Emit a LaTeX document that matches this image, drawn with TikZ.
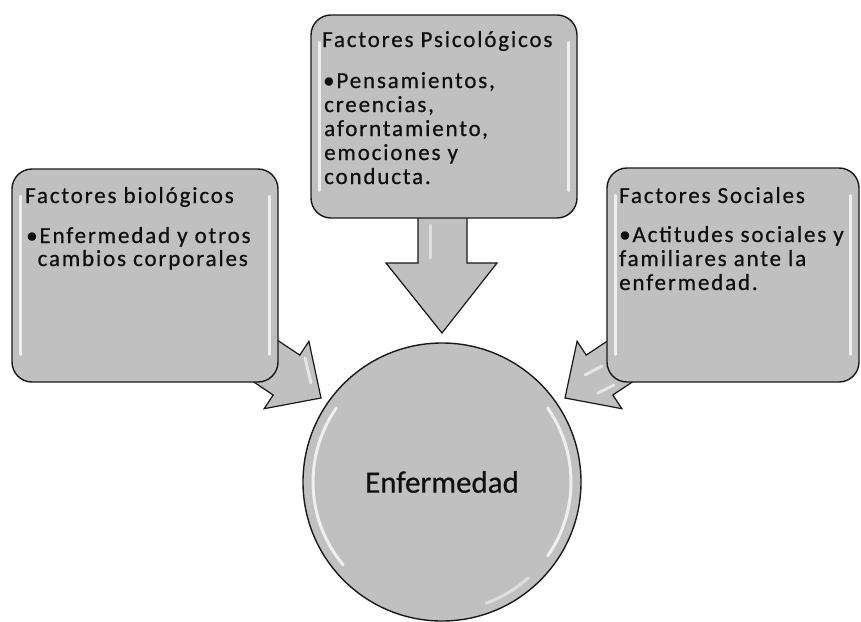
\documentclass[tikz,border=0pt]{standalone}
\usepackage{fontspec}
\setmainfont{Carlito}
\newfontfamily\boxfont{Carlito}[LetterSpace=8,FakeBold=0.6]
\newfontfamily\circfont{Carlito}[FakeBold=0.5]
\definecolor{boxgray}{RGB}{192,192,192}
\definecolor{edgec}{RGB}{25,25,25}
\definecolor{textc}{RGB}{15,15,15}
\begin{document}
\begin{tikzpicture}[x=1pt,y=-1pt,
  boxshape/.style={draw=edgec, line width=1.4pt, fill=boxgray, rounded corners=20pt, inner sep=0pt},
  blk/.style={draw=edgec, line width=1.2pt, fill=boxgray, line join=miter},
  hl/.style={white, opacity=0.75, line width=3pt, line cap=round},
  txt/.style={anchor=base west, inner sep=0pt, font=\boxfont\fontsize{23}{23.5}\selectfont, text=textc}]
\useasboundingbox (0,0) rectangle (861,621);
\fill[white] (0,0) rectangle (861,621);

% block arrows (under the boxes)
\coordinate (d1) at (418,200); \coordinate (d2) at (418,263); \coordinate (d3) at (386,263);
\coordinate (dt) at (442,333);
\coordinate (d4) at (497,263); \coordinate (d5) at (467,263); \coordinate (d6) at (467,200);
\draw[blk] (d1) -- (d2) -- (d3) -- (dt) -- (d4) -- (d5) -- (d6) -- cycle;
\draw[hl, opacity=0.5] (430,225) -- (430,258);

\coordinate (l1) at (249.9,321.9); \coordinate (l2) at (299.8,355.1); \coordinate (l3) at (308.9,341.3);
\coordinate (lt) at (321,398);
\coordinate (l4) at (264.1,408.7); \coordinate (l5) at (273.2,395); \coordinate (l6) at (223.3,361.7);
\draw[blk] (l1) -- (l2) -- (l3) -- (lt) -- (l4) -- (l5) -- (l6) -- cycle;
\draw[hl, opacity=0.6] (305,358) -- (311,383);

\coordinate (r1) at (636.1,321.9); \coordinate (r2) at (586.2,355.1); \coordinate (r3) at (577.1,341.3);
\coordinate (rt) at (565,398);
\coordinate (r4) at (621.9,408.7); \coordinate (r5) at (612.8,395); \coordinate (r6) at (662.7,361.7);
\draw[blk] (r1) -- (r2) -- (r3) -- (rt) -- (r4) -- (r5) -- (r6) -- cycle;
\draw[hl, opacity=0.6] (585,375) -- (602,366);
\draw[hl, opacity=0.6] (598,393) -- (614,385);

% boxes
\node[boxshape, minimum width=266pt, minimum height=213pt] (bio) at (145,275.5) {};
\node[boxshape, minimum width=266pt, minimum height=203pt] (psi) at (444,116.5) {};
\node[boxshape, minimum width=252pt, minimum height=214pt] (soc) at (733,275) {};

% glossy highlights on the boxes
\draw[hl] ([xshift=9pt,yshift=-28pt]bio.north west) -- ([xshift=9pt,yshift=28pt]bio.south west);
\draw[hl] ([xshift=-9pt,yshift=-28pt]bio.north east) -- ([xshift=-9pt,yshift=28pt]bio.south east);
\draw[hl] ([xshift=9pt,yshift=-28pt]psi.north west) -- ([xshift=9pt,yshift=28pt]psi.south west);
\draw[hl] ([xshift=-9pt,yshift=-28pt]psi.north east) -- ([xshift=-9pt,yshift=28pt]psi.south east);
\draw[hl] ([xshift=9pt,yshift=-28pt]soc.north west) -- ([xshift=9pt,yshift=28pt]soc.south west);
\draw[hl] ([xshift=-9pt,yshift=-28pt]soc.north east) -- ([xshift=-9pt,yshift=28pt]soc.south east);

% circle
\node[circle, draw=edgec, line width=1.4pt, fill=boxgray, minimum size=278pt, inner sep=0pt,
      font=\circfont\fontsize{31}{36}\selectfont, text=textc] (enf) at (442,482) {Enfermedad};
\draw[hl] ([shift={(140:129)}]enf.center) arc[start angle=140, end angle=215, radius=129];
\draw[hl] ([shift={(-35:129)}]enf.center) arc[start angle=-35, end angle=35, radius=129];
\draw[hl, opacity=0.5] ([shift={(48:129)}]enf.center) arc[start angle=48, end angle=70, radius=129];

% texts
\node[txt] (bioT) at (25,203) {Factores biológicos};
\node[txt] (bioA) at (26,243) {•Enfermedad y otros};
\node[txt] (bioB) at (26,266) {\phantom{•}cambios corporales};

\node[txt] (psiT) at (322,47) {Factores Psicológicos};
\node[txt] (psiA) at (323,88) {•Pensamientos,};
\node[txt] (psiB) at (324,112) {creencias,};
\node[txt] (psiC) at (324,136) {aforntamiento,};
\node[txt] (psiD) at (324,160) {emociones y};
\node[txt] (psiE) at (324,184) {conducta.};

\node[txt] (socT) at (619,203) {Factores Sociales};
\node[txt] (socA) at (619,242) {•Actitudes sociales y};
\node[txt] (socB) at (619,266) {familiares ante la};
\node[txt] (socC) at (619,290) {enfermedad.};
\end{tikzpicture}
\end{document}
